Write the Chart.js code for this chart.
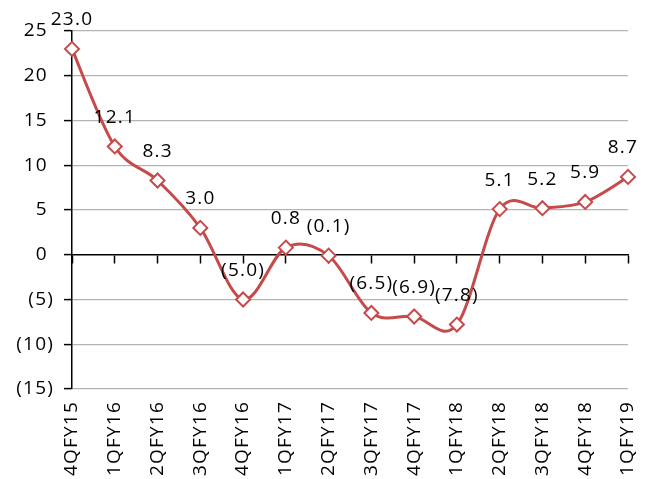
<!DOCTYPE html>
<html>
<head>
<meta charset="utf-8">
<script src="https://cdn.jsdelivr.net/npm/chart.js@4/dist/chart.umd.min.js"></script>
<style>
  html, body { margin: 0; padding: 0; background: #fff; }
  #wrap { width: 652px; height: 479px; }
</style>
</head>
<body>
<div id="wrap"><canvas id="c" width="652" height="479"></canvas></div>
<script>
// Quarterly growth (%), negatives shown in brackets
const quarters = ['4QFY15','1QFY16','2QFY16','3QFY16','4QFY16','1QFY17','2QFY17','3QFY17','4QFY17','1QFY18','2QFY18','3QFY18','4QFY18','1QFY19'];
const growth = [23.0, 12.1, 8.3, 3.0, -5.0, 0.8, -0.1, -6.5, -6.9, -7.8, 5.1, 5.2, 5.9, 8.7];
const yTicks = [25, 20, 15, 10, 5, 0, -5, -10, -15];

const FONT = '"Open Sans", "Noto Sans", sans-serif';
const SIZE = 19;
const SPACING = '1.2px';
const RED = '#C64A4A';

// accounting-style numbers: brackets for negatives, room for the bracket on positives
const bracket = (v, digits) => v < 0 ? '(' + Math.abs(v).toFixed(digits) + ')' : v.toFixed(digits);
const bracketTick = v => v < 0 ? '(' + Math.abs(v) + ')' : v + ' ';

// Slightly spaced lettering for all canvas text
const spacing = {
  id: 'spacing',
  beforeInit(chart) { chart.ctx.letterSpacing = SPACING; },
  beforeUpdate(chart) { chart.ctx.letterSpacing = SPACING; },
  beforeDraw(chart) { chart.ctx.letterSpacing = SPACING; }
};

// Uniform Catmull-Rom smoothing through the plotted points
const smoothLine = {
  id: 'smoothLine',
  beforeDatasetsDraw(chart) {
    const meta = chart.getDatasetMeta(0);
    const pts = meta.data;
    const n = pts.length;
    for (let i = 0; i < n; i++) {
      const p = pts[i];
      const a = pts[Math.max(i - 1, 0)];
      const b = pts[Math.min(i + 1, n - 1)];
      const dx = (b.x - a.x) / 6, dy = (b.y - a.y) / 6;
      p.cp1x = p.x - dx; p.cp1y = p.y - dy;
      p.cp2x = p.x + dx; p.cp2y = p.y + dy;
    }
    meta.dataset._pointsUpdated = true;
  }
};

// Value labels above each marker, kept clear of the right edge
const valueLabels = {
  id: 'valueLabels',
  afterDatasetsDraw(chart) {
    const ctx = chart.ctx;
    const meta = chart.getDatasetMeta(0);
    const limit = chart.chartArea.right + 10;
    ctx.save();
    ctx.letterSpacing = SPACING;
    ctx.font = SIZE + 'px ' + FONT;
    ctx.fillStyle = '#000';
    ctx.textAlign = 'center';
    ctx.textBaseline = 'middle';
    meta.data.forEach((pt, i) => {
      const text = bracket(growth[i], 1);
      const half = ctx.measureText(text).width / 2;
      const x = Math.min(pt.x, limit - half);
      ctx.fillText(text, x, pt.y - 29);
    });
    ctx.restore();
  }
};

new Chart(document.getElementById('c'), {
  type: 'line',
  data: {
    labels: quarters,
    datasets: [{
      data: growth,
      borderColor: RED,
      borderWidth: 3,
      tension: 0.4,
      pointStyle: 'rectRot',
      pointRadius: 7,
      pointBorderWidth: 2,
      pointBackgroundColor: '#fff',
      pointBorderColor: RED,
      xAxisID: 'x',
      clip: false
    }]
  },
  options: {
    responsive: false,
    animation: false,
    events: [],
    layout: { padding: { top: 31, right: 24, left: 0, bottom: 0 } },
    plugins: { legend: { display: false }, tooltip: { enabled: false } },
    scales: {
      x: {
        type: 'category',
        position: { y: 0 },
        offset: false,
        grid: { drawOnChartArea: false, drawTicks: true, tickLength: 8, tickColor: '#000', tickWidth: 1.5 },
        border: { display: true, color: '#000', width: 1.5 },
        ticks: { display: false, padding: 0 },
        afterFit(s) { s.paddingLeft = 0; s.paddingRight = 0; }
      },
      xl: {
        type: 'category',
        position: 'bottom',
        offset: false,
        grid: { display: false, drawTicks: false },
        border: { display: false },
        ticks: {
          minRotation: 90, maxRotation: 90, autoSkip: false, padding: 12,
          color: '#000', font: { family: FONT, size: SIZE }
        },
        afterFit(s) { s.height = 90; s.paddingLeft = 0; s.paddingRight = 0; }
      },
      y: {
        min: -15, max: 25,
        afterBuildTicks(s) { s.ticks = yTicks.map(v => ({ value: v })); },
        grid: {
          color: c => c.tick && c.tick.value === 0 ? 'rgba(0,0,0,0)' : '#b4b4b4',
          lineWidth: 1.2,
          tickColor: '#000', tickLength: 8, tickWidth: 1.5
        },
        border: { display: true, color: '#000', width: 1.5 },
        ticks: {
          padding: 10, color: '#000', font: { family: FONT, size: SIZE },
          callback: v => bracketTick(v)
        },
        afterFit(s) { s.width = 72; s.paddingTop = 0; s.paddingBottom = 0; }
      }
    }
  },
  plugins: [spacing, smoothLine, valueLabels]
});
</script>
</body>
</html>
